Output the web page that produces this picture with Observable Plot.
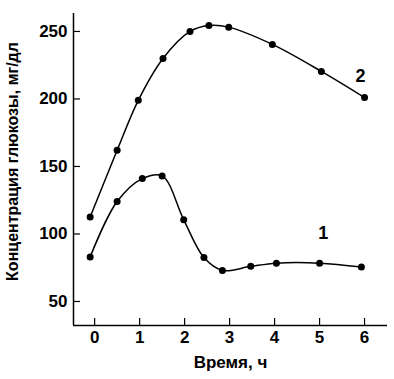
<!DOCTYPE html>
<html>
<head>
<meta charset="utf-8">
<script src="https://cdn.jsdelivr.net/npm/d3@7"></script>
<script src="https://cdn.jsdelivr.net/npm/@observablehq/plot@0.6"></script>
<style>
  html, body { margin: 0; padding: 0; background: #fff; }
  svg { font-family: "Liberation Sans", Arial, sans-serif; }
</style>
</head>
<body>
<div id="chart"></div>
<script>
// Time, h
const time1 = [-0.1, 0.5, 1.06, 1.5, 1.98, 2.43, 2.84, 3.47, 4.04, 5.0, 5.93];
const glucose1 = [83, 124, 141, 143, 110.5, 82.5, 73, 76, 78.4, 78.4, 75.5];
const time2 = [-0.1, 0.5, 0.97, 1.52, 2.12, 2.54, 2.98, 3.95, 5.04, 6.0];
const glucose2 = [112.5, 162, 199, 230, 250, 254.4, 253.2, 240.4, 220.4, 201];
const xTicks = [0, 1, 2, 3, 4, 5, 6];
const yTicks = [50, 100, 150, 200, 250];
const xDomain = [-0.47, 6.51];
const yDomain = [32.2, 263.3];
const labelNames = ["1", "2"];
const labelX = [5.08, 5.91];
const labelY = [100.6, 216.7];

const s1 = time1.map((t, i) => ({t, g: glucose1[i]}));
const s2 = time2.map((t, i) => ({t, g: glucose2[i]}));
const labels = labelNames.map((n, i) => ({n, x: labelX[i], y: labelY[i]}));

const chart = Plot.plot({
  width: 394,
  height: 379,
  marginLeft: 73,
  marginRight: 7,
  marginTop: 13,
  marginBottom: 54,
  style: {fontFamily: '"Liberation Sans", Arial, sans-serif', background: "#fff", color: "#000"},
  x: {domain: xDomain},
  y: {domain: yDomain},
  marks: [
    Plot.ruleX([xDomain[0]], {stroke: "#000", strokeWidth: 1.5}),
    Plot.ruleY([yDomain[0]], {stroke: "#000", strokeWidth: 1.5}),
    Plot.axisX(xTicks, {tickSize: -7, text: null, stroke: "#000", strokeWidth: 1.2, label: null}),
    Plot.axisX(xTicks, {tickSize: 0, tickPadding: 5, fontSize: 17, fontWeight: "bold", fill: "#000", label: null}),
    Plot.axisY(yTicks, {tickSize: -7, text: null, stroke: "#000", strokeWidth: 1.2, label: null}),
    Plot.axisY(yTicks, {tickSize: 0, tickPadding: 6, fontSize: 17, fontWeight: "bold", fill: "#000", label: null}),
    Plot.line(s1, {x: "t", y: "g", curve: "catmull-rom", stroke: "#000", strokeWidth: 1.5}),
    Plot.line(s2, {x: "t", y: "g", curve: "catmull-rom", stroke: "#000", strokeWidth: 1.5}),
    Plot.dot(s1, {x: "t", y: "g", r: 3.5, fill: "#000"}),
    Plot.dot(s2, {x: "t", y: "g", r: 3.5, fill: "#000"}),
    Plot.text(labels, {x: "x", y: "y", text: "n", fontSize: 18, fontWeight: "bold", fill: "#000"}),
    Plot.text(["Время, ч"], {frameAnchor: "bottom", textAnchor: "middle", lineAnchor: "middle", dy: 37, fontSize: 17, fontWeight: "bold", fill: "#000"}),
    Plot.text(["Концентрация глюкозы, мг/дл"], {frameAnchor: "left", textAnchor: "middle", lineAnchor: "middle", dx: -61, dy: -8, rotate: -90, fontSize: 16, fontWeight: "bold", fill: "#000", letterSpacing: "0.5px"})
  ]
});
document.getElementById("chart").appendChild(chart);
</script>
</body>
</html>
